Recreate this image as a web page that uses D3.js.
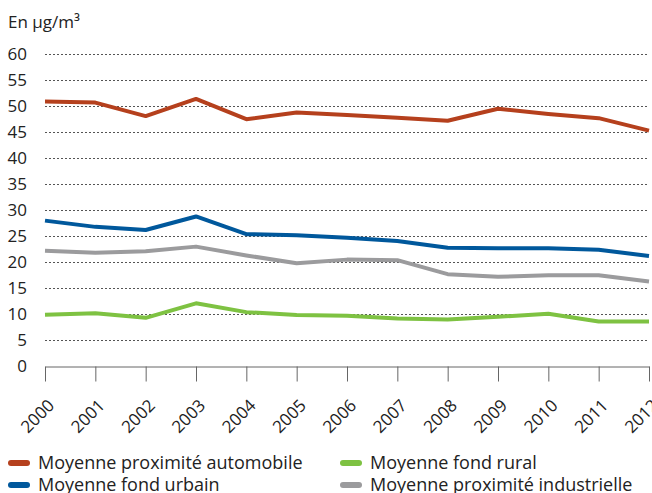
<!DOCTYPE html>
<html>
<head>
<meta charset="utf-8">
<script src="https://cdn.jsdelivr.net/npm/d3@7"></script>
<style>
  body { margin: 0; background: #fff; }
  svg text { font-family: "Open Sans", sans-serif; fill: #222; }
  .grid line { stroke: #555; stroke-dasharray: 2,2; }
</style>
</head>
<body>
<svg id="chart" width="652" height="493"></svg>
<script>
// years on the x axis
var years = [2000, 2001, 2002, 2003, 2004, 2005, 2006, 2007, 2008, 2009, 2010, 2011, 2012];

// series values, µg/m3
var autoVals = [50.8, 50.6, 48.0, 51.3, 47.4, 48.7, 48.2, 47.7, 47.1, 49.4, 48.4, 47.6, 45.2];
var urbainVals = [27.9, 26.7, 26.1, 28.7, 25.3, 25.1, 24.6, 24.0, 22.7, 22.6, 22.6, 22.3, 21.1];
var ruralVals = [9.8, 10.1, 9.2, 12.0, 10.3, 9.75, 9.6, 9.1, 8.9, 9.4, 10.0, 8.5, 8.5];
var industVals = [22.1, 21.7, 22.0, 22.9, 21.2, 19.7, 20.4, 20.3, 17.6, 17.1, 17.4, 17.4, 16.2];

var yTicks = [0, 5, 10, 15, 20, 25, 30, 35, 40, 45, 50, 55, 60];

var seriesNames = ["Moyenne proximité automobile", "Moyenne fond urbain", "Moyenne fond rural", "Moyenne proximité industrielle"];
var seriesColors = ["#b5401d", "#00589c", "#7ec242", "#9b9b9d"];

var series = [autoVals, urbainVals, ruralVals, industVals];

var svg = d3.select("#chart");

var x = d3.scaleLinear().domain([2000, 2012]).range([45, 649]);
var y = d3.scaleLinear().domain([0, 60]).range([365.7, 53.7]);

svg.append("text")
  .attr("x", 8).attr("y", 28)
  .style("font-size", "17px")
  .text("En µg/m³");

// dotted gridlines
svg.append("g").attr("class", "grid")
  .selectAll("line")
  .data(yTicks.filter(function(d) { return d > 0; }))
  .enter().append("line")
  .attr("x1", x(2000)).attr("x2", x(2012))
  .attr("y1", function(d) { return Math.round(y(d)) + 0.5; })
  .attr("y2", function(d) { return Math.round(y(d)) + 0.5; });

// y labels
svg.append("g")
  .selectAll("text")
  .data(yTicks)
  .enter().append("text")
  .attr("x", 27)
  .attr("y", function(d) { return y(d); })
  .attr("dy", "0.38em")
  .attr("text-anchor", "end")
  .style("font-size", "17px")
  .text(function(d) { return d; });

// x axis
var xAxis = d3.axisBottom(x)
  .tickValues(years)
  .tickFormat(d3.format("d"))
  .tickSize(15)
  .tickSizeOuter(0);

var gx = svg.append("g")
  .attr("transform", "translate(0," + (Math.round(y(0)) + 0.5) + ")")
  .call(xAxis);
gx.select(".domain").attr("stroke", "#666");
gx.selectAll(".tick line").attr("stroke", "#666");
gx.selectAll(".tick text")
  .style("font-size", "17px")
  .style("font-family", "'Open Sans', sans-serif")
  .attr("fill", "#222")
  .attr("text-anchor", "end")
  .attr("dy", null)
  .attr("y", 0)
  .attr("transform", "translate(10,40) rotate(-45)");

var line = d3.line()
  .x(function(d, i) { return x(years[i]); })
  .y(function(d) { return y(d); });

svg.append("g")
  .selectAll("path")
  .data(series)
  .enter().append("path")
  .attr("d", line)
  .attr("fill", "none")
  .attr("stroke", function(d, i) { return seriesColors[i]; })
  .attr("stroke-width", 4)
  .attr("stroke-linejoin", "round");

// legend, two columns
var legendPos = [[8, 463], [8, 485], [340, 463], [340, 485]];
var leg = svg.append("g")
  .selectAll("g")
  .data(seriesNames)
  .enter().append("g")
  .attr("transform", function(d, i) { return "translate(" + legendPos[i][0] + "," + legendPos[i][1] + ")"; });

leg.append("line")
  .attr("x1", 3).attr("x2", 19)
  .attr("y1", 0).attr("y2", 0)
  .attr("stroke", function(d, i) { return seriesColors[i]; })
  .attr("stroke-width", 6)
  .attr("stroke-linecap", "round");

leg.append("text")
  .attr("x", 30)
  .attr("dy", "0.35em")
  .style("font-size", "18px")
  .text(function(d) { return d; });
</script>
</body>
</html>
